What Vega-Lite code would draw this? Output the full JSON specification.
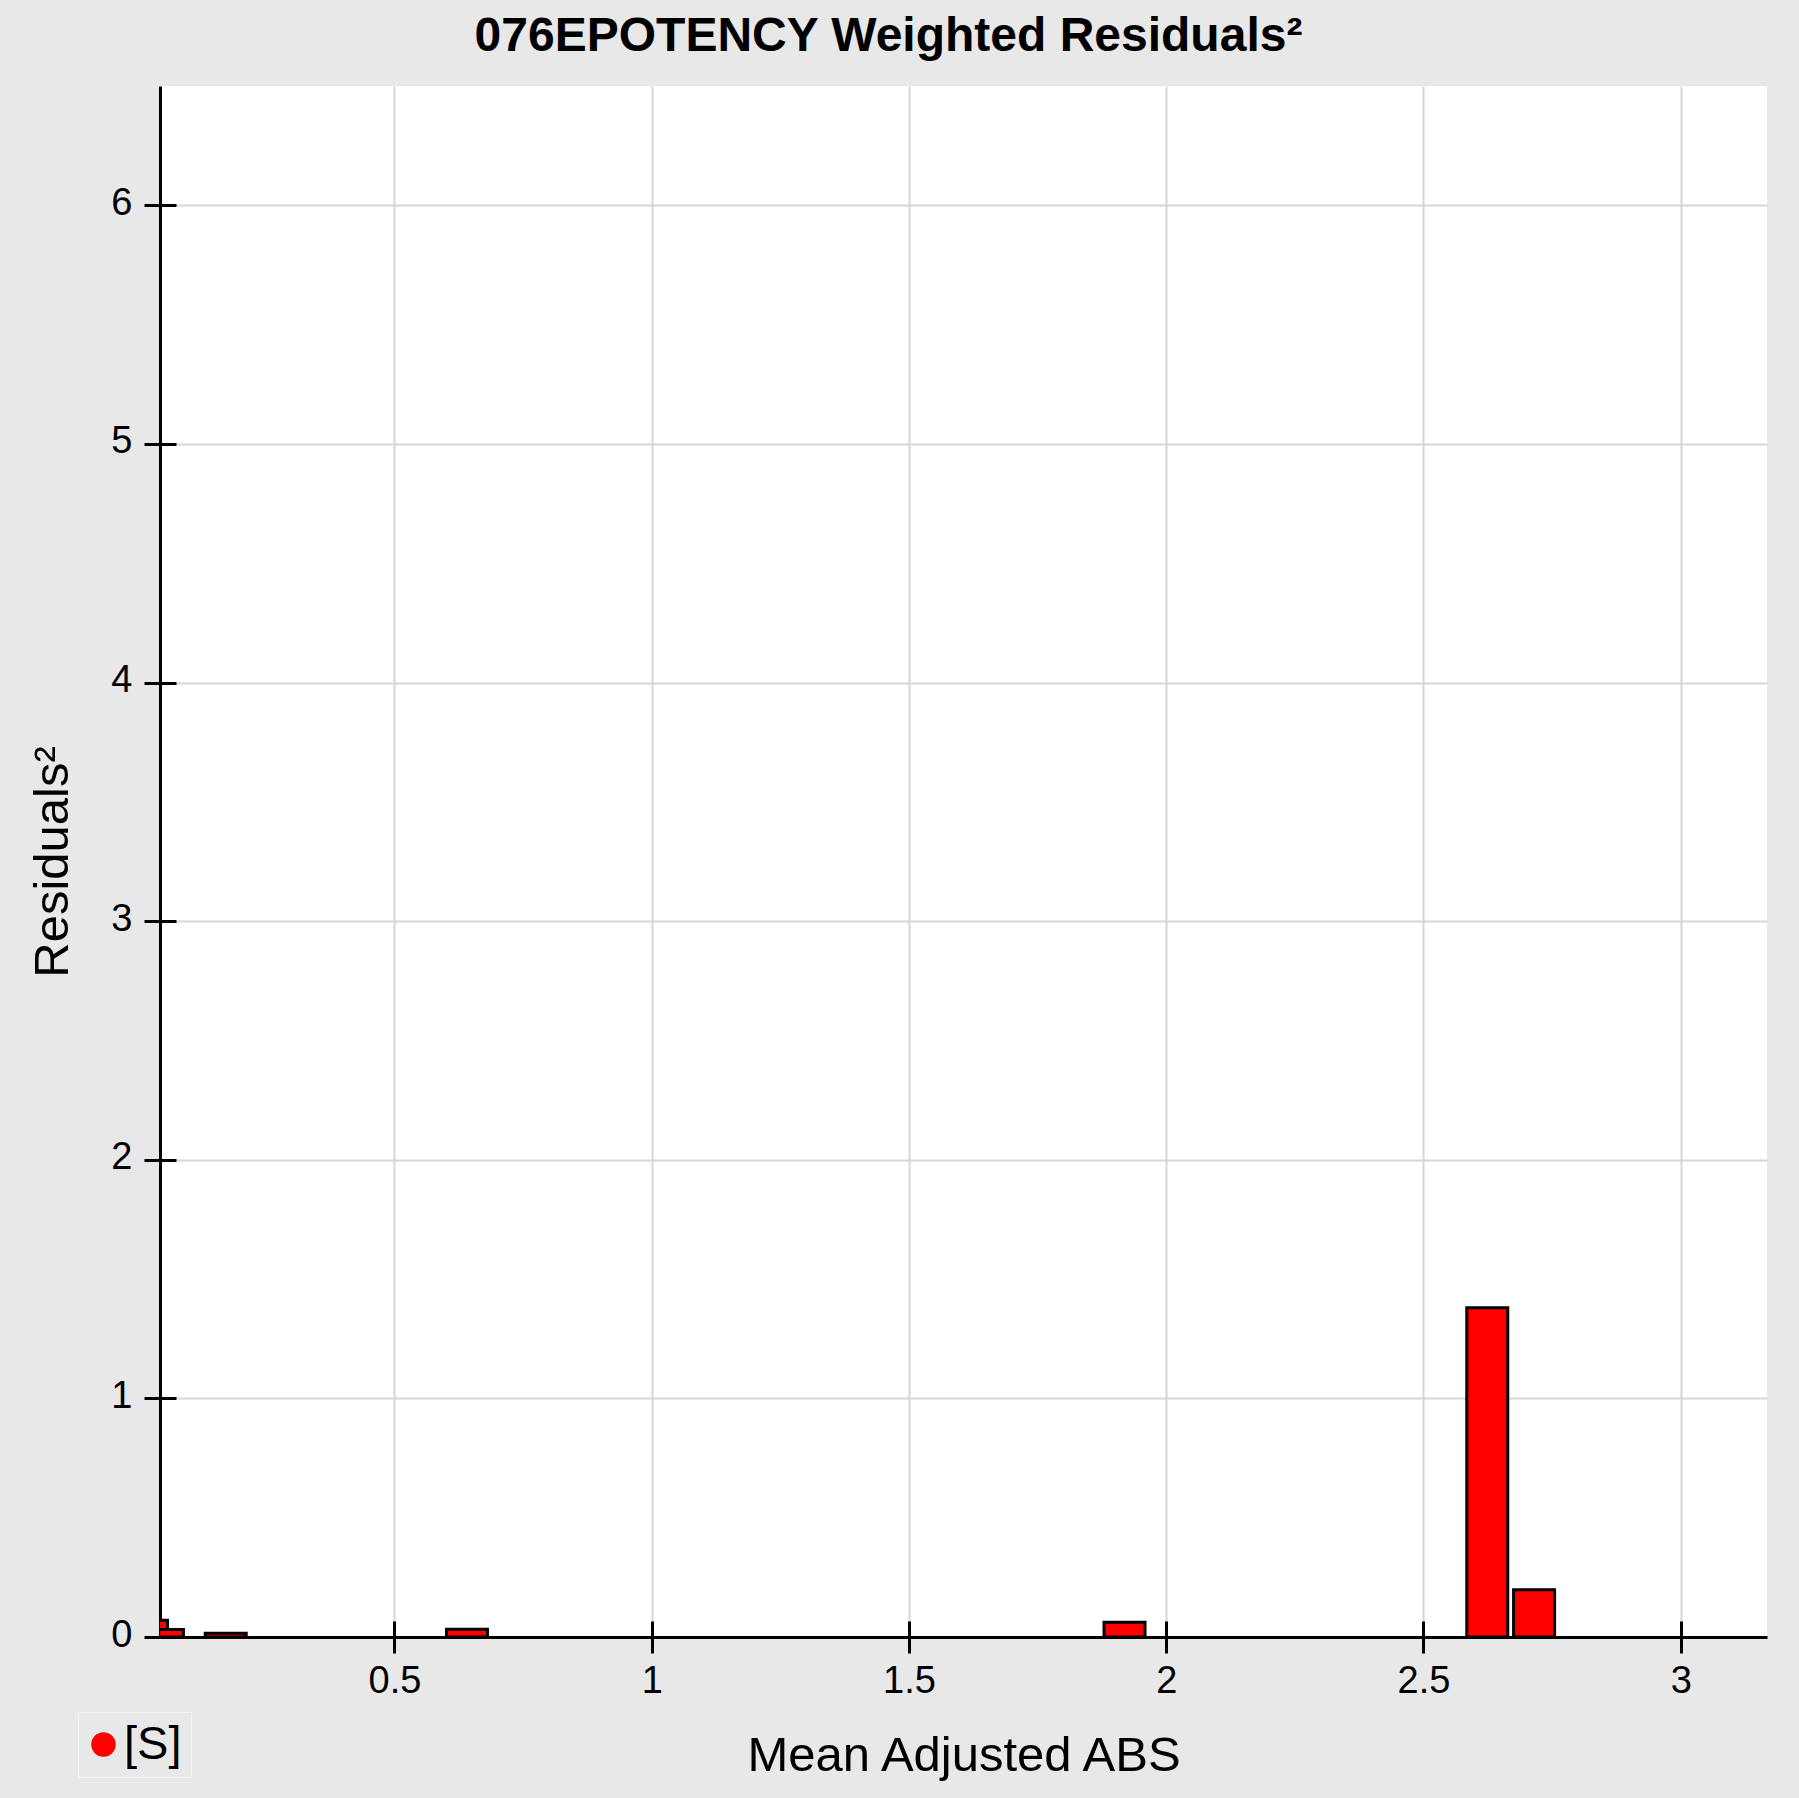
{
  "$schema": "https://vega.github.io/schema/vega-lite/v6.json",
  "width": 1607,
  "height": 1551,
  "autosize": {"type": "none"},
  "padding": {"left": 160, "top": 86, "right": 32, "bottom": 161},
  "background": "#e8e8e8",
  "config": {"view": {"fill": "white", "stroke": null}, "font": "Liberation Sans"},
  "title": {"text": "076EPOTENCY Weighted Residuals²", "fontSize": 48, "fontWeight": "bold", "font": "Liberation Sans", "color": "black", "anchor": "middle", "dx": -75, "baseline": "alphabetic", "offset": -13},
  "data": {"values": [
    {"abs": 0.019, "res2": 0.07, "series": "[S]"},
    {"abs": 0.05, "res2": 0.031, "series": "[S]"},
    {"abs": 0.172, "res2": 0.016, "series": "[S]"},
    {"abs": 0.641, "res2": 0.032, "series": "[S]"},
    {"abs": 1.919, "res2": 0.062, "series": "[S]"},
    {"abs": 2.624, "res2": 1.38, "series": "[S]"},
    {"abs": 2.715, "res2": 0.198, "series": "[S]"}
  ]},
  "layer": [
    {
      "mark": {"type": "bar", "width": 41, "stroke": "black", "strokeWidth": 3, "clip": true},
      "encoding": {
        "x": {"field": "abs", "type": "quantitative",
          "scale": {"domain": [0.054, 3.158], "nice": false, "zero": false},
          "axis": {"orient": "bottom", "values": [0.5, 1, 1.5, 2, 2.5, 3], "format": "~g", "labelFontSize": 38, "labelColor": "black", "labelPadding": 9, "tickSize": 16, "tickWidth": 3, "tickColor": "black", "domainColor": "black", "domainWidth": 3, "grid": true, "gridColor": "#d6d6d6", "gridWidth": 2, "title": "Mean Adjusted ABS", "titleFontSize": 49, "titleFontWeight": "normal", "titleColor": "black", "titleBaseline": "alphabetic", "titleY": 133}
        },
        "y": {"field": "res2", "type": "quantitative",
          "scale": {"domain": [0, 6.5], "nice": false},
          "axis": {"orient": "left", "values": [0, 1, 2, 3, 4, 5, 6], "labelFontSize": 38, "labelColor": "black", "labelPadding": 12, "labelOffset": -2, "tickSize": 16, "tickWidth": 3, "tickColor": "black", "domainColor": "black", "domainWidth": 3, "grid": true, "gridColor": "#d6d6d6", "gridWidth": 2, "title": "Residuals²", "titleFontSize": 49, "titleFontWeight": "normal", "titleColor": "black", "titleBaseline": "alphabetic", "titleX": -93}
        },
        "color": {"field": "series", "type": "nominal", "scale": {"range": ["#ff0000"]},
          "legend": {"title": null, "orient": "none", "legendX": -82, "legendY": 1626, "symbolType": "circle", "symbolSize": 600, "symbolStrokeWidth": 0, "symbolFillColor": "#ff0000", "symbolOffset": -7, "labelFontSize": 47, "labelColor": "black", "labelOffset": -3, "padding": 9, "fillColor": "#e8e8e8", "strokeColor": "#f4f4f4"}
        }
      }
    },
    {
      "mark": {"type": "bar", "width": 41, "opacity": 0, "clip": true},
      "encoding": {
        "x": {"field": "abs", "type": "quantitative",
          "axis": {"orient": "bottom", "offset": -16, "values": [0.5, 1, 1.5, 2, 2.5, 3], "labels": false, "domain": false, "grid": false, "ticks": true, "tickSize": 16, "tickWidth": 3, "tickColor": "black", "title": null}
        },
        "y": {"field": "res2", "type": "quantitative",
          "axis": {"orient": "left", "offset": -16, "values": [0, 1, 2, 3, 4, 5, 6], "labels": false, "domain": false, "grid": false, "ticks": true, "tickSize": 16, "tickWidth": 3, "tickColor": "black", "title": null}
        }
      }
    }
  ],
  "resolve": {"axis": {"x": "independent", "y": "independent"}}
}
